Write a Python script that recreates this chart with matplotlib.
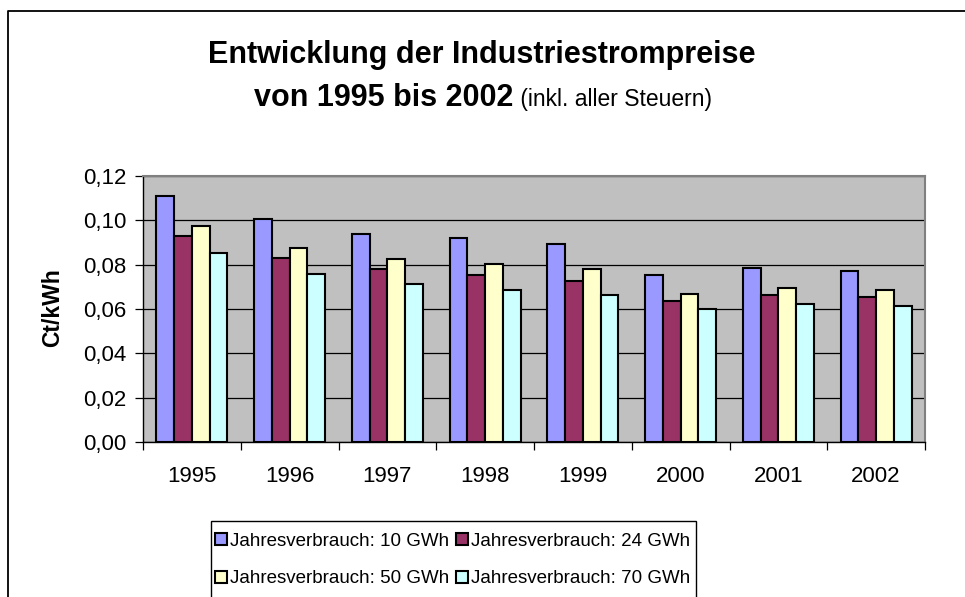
import matplotlib
matplotlib.use("Agg")
import matplotlib.pyplot as plt
from matplotlib.lines import Line2D
from matplotlib.patches import Patch, Rectangle
import numpy as np

years = ["1995", "1996", "1997", "1998", "1999", "2000", "2001", "2002"]
series_names = ["Jahresverbrauch: 10 GWh", "Jahresverbrauch: 24 GWh",
                "Jahresverbrauch: 50 GWh", "Jahresverbrauch: 70 GWh"]
v10 = [0.1111, 0.1005, 0.0940, 0.0919, 0.0892, 0.0755, 0.0784, 0.0773]
v24 = [0.0928, 0.0832, 0.0781, 0.0755, 0.0725, 0.0638, 0.0664, 0.0655]
v50 = [0.0974, 0.0874, 0.0826, 0.0802, 0.0779, 0.0669, 0.0696, 0.0687]
v70 = [0.0853, 0.0760, 0.0712, 0.0687, 0.0664, 0.0600, 0.0622, 0.0613]
yticks = [0.00, 0.02, 0.04, 0.06, 0.08, 0.10, 0.12]
ytick_labels = ["0,00", "0,02", "0,04", "0,06", "0,08", "0,10", "0,12"]
colors = ["#9999FF", "#993366", "#FFFFCC", "#CCFFFF"]

plt.rcParams['font.family'] = ['Liberation Sans', 'DejaVu Sans']

W, H = 965, 597
fig = plt.figure(figsize=(W / 100, H / 100), dpi=100)

def fx(px):
    return px / W

def fy(py):
    return 1 - py / H

# outer chart frame (partly cut by image edges)
fig.add_artist(Line2D([fx(8), fx(8), fx(965)], [fy(597), fy(11), fy(11)],
                      transform=fig.transFigure, color="#000000", lw=1.3))

L, R, T, B = 143, 925, 176, 442
ax = fig.add_axes([fx(L), fy(B), fx(R) - fx(L), fy(T) - fy(B)])
ax.set_facecolor("#C0C0C0")

x = np.arange(len(years))
bw = 1 / 5.5
for i, (vals, c, name) in enumerate(zip([v10, v24, v50, v70], colors, series_names)):
    ax.bar(x + (i - 1.5) * bw, vals, width=bw, color=c, edgecolor="black",
           linewidth=1.5, label=name, zorder=3)

ax.set_xlim(-0.5, len(years) - 0.5)
ax.set_ylim(0, 0.12)
ax.set_yticks(yticks)
ax.set_yticklabels(ytick_labels)
ax.yaxis.grid(True, color="#000000", lw=0.9, zorder=0)
ax.set_axisbelow(True)

ax.set_xticks(x)
ax.set_xticklabels(years)
ax.set_xticks(np.arange(-0.5, len(years)), minor=True)
ax.tick_params(axis="x", which="major", length=0, pad=17, labelsize=16)
ax.tick_params(axis="x", which="minor", length=6, width=0.9, direction="out")
ax.tick_params(axis="y", length=6, width=0.9, direction="out", pad=6, labelsize=16)

for s in ["top", "right"]:
    ax.spines[s].set_color("#808080")
    ax.spines[s].set_linewidth(1.5)
for s in ["left", "bottom"]:
    ax.spines[s].set_color("#000000")
    ax.spines[s].set_linewidth(1.0)

fig.text(fx(53), fy(308), "Ct/kWh", rotation=90, ha="center", va="center",
         fontsize=16.5, fontweight="bold")

# title
fig.text(fx(482), fy(55), "Entwicklung der Industriestrompreise", ha="center",
         va="center", fontsize=22, fontweight="bold")
t1 = fig.text(0, fy(106), "von 1995 bis 2002", ha="left", va="baseline",
              fontsize=22, fontweight="bold")
t2 = fig.text(0, fy(106), " (inkl. aller Steuern)", ha="left", va="baseline",
              fontsize=16.5)

order = [0, 2, 1, 3]
handles = [Patch(facecolor=colors[k], edgecolor="black", linewidth=1.5) for k in order]
labels = [series_names[k] for k in order]
leg = fig.legend(handles, labels, ncol=2, loc="upper left",
                 bbox_to_anchor=(fx(211), fy(529)), fontsize=13.5,
                 frameon=False,
                 handlelength=0.65, handleheight=0.65, handletextpad=0.15,
                 columnspacing=0.35, labelspacing=1.1, borderpad=0.2,
                 borderaxespad=0)

fig.canvas.draw()
r = fig.canvas.get_renderer()
w1 = t1.get_window_extent(r).width
w2 = t2.get_window_extent(r).width
start = 483 - (w1 + w2) / 2
t1.set_x(start / W)
t2.set_x((start + w1) / W)

lx1 = leg.get_window_extent(r).x1
fig.add_artist(Rectangle((fx(211), fy(600)), (lx1 + 2) / W - fx(211), fy(521) - fy(600),
                         transform=fig.transFigure, facecolor="none",
                         edgecolor="black", lw=1.0))

fig.savefig("out.png", dpi=100)
